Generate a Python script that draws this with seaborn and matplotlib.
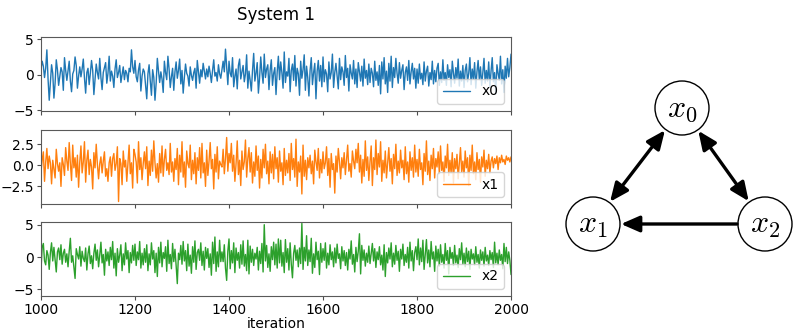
import numpy as np
import pandas as pd
import matplotlib.pyplot as plt
import seaborn as sns
from matplotlib.patches import Circle, FancyArrowPatch

# samples, roughly one every 2.5 iterations from 1000 to 2000
x0 = [0.8, 1.9, 1.2, -0.4, 0.9, 3.5, -0.6, -3.6, -1.0, 1.4, 0.2, -3.3, -1.2, 2.1, 0.7, -1.5, -0.3, 1.0, 0.4, -2.2,
      2.4, 0.6, -0.8, 0.5, 1.9, -0.9, -2.4, 0.1, 0.6, 2.5, 1.3, -1.9, -0.2, 1.1, -0.3, 0.8, 2.2, -0.5, -2.6, 0.3,
      0.9, -1.4, 0.2, 2.0, 0.6, -2.8, -0.7, 1.5, 0.3, -0.6, 2.3, -0.4, -2.1, 0.3, 1.0, 1.7, -1.2, 0.2, 2.6, -0.9,
      0.5, -0.2, -1.8, 0.8, 2.1, -0.4, 0.3, 1.3, -1.1, 0.0, 1.1, -0.7, 0.6, 0.2, -1.0, 0.9, 0.4, 3.5, 1.1, 0.2,
      2.0, -0.3, -1.0, 0.7, 1.6, -2.3, -0.2, 0.8, 0.4, -1.5, -3.4, 0.1, 1.4, -0.9, -2.9, 0.7, -0.4, -3.6, -1.2, 2.3,
      0.5, -1.1, 0.4, -0.6, -2.5, 1.9, 0.3, -0.7, 2.6, 0.8, -1.8, -0.3, 0.9, -2.2, 0.4, 1.8, -0.5, 0.6, 2.2, -1.3,
      0.6, -2.6, -0.4, 1.5, 0.2, -0.2, -1.6, 1.1, -0.1, -0.8, 0.3, 0.9, -1.9, 2.0, 0.4, -1.2, 0.7, -0.3, 1.6, 0.5,
      -0.6, 0.8, -0.3, 1.2, 0.2, -1.1, 0.6, 2.1, -0.2, 0.3, -0.9, 1.4, 0.1, -0.5, 0.7, 1.9, 0.4, 3.6, 1.0, -1.4,
      1.9, 0.2, -0.3, 2.4, -1.7, -0.2, 0.8, -2.0, 1.3, 2.2, -0.6, 0.4, 1.3, -1.0, 0.1, 2.8, -1.9, 0.5, -0.8, -2.3,
      0.6, 3.0, -0.9, 0.2, 1.7, -2.6, -0.5, 2.5, 0.3, -1.2, 2.9, -0.4, 0.8, 1.4, -2.1, 0.6, 2.1, -1.5, 0.2, 1.0,
      -2.8, 0.4, 2.6, -0.7, 1.8, 0.3, -1.9, 3.2, -1.1, 0.4, -0.2, 2.3, -2.4, 0.6, 1.5, -0.8, 2.7, -1.6, 0.9, 0.1,
      -2.9, 1.9, -0.5, 0.7, 2.8, -2.2, 1.2, -0.4, -3.0, 0.6, 2.4, -1.4, 0.3, 1.6, -3.4, 0.5, 2.0, -0.9, 1.3, -1.7,
      2.5, -1.0, 0.7, 0.1, -2.4, 1.8, -0.6, 0.3, 2.9, -1.8, 0.3, 1.6, -0.2, -2.0, 2.3, -0.7, 1.1, 0.4, -1.5, 2.7,
      -0.4, 0.9, -2.3, 1.4, 0.2, -0.6, 2.0, -1.3, 0.8, -1.8, 1.7, 0.4, -0.9, 1.2, -1.6, 2.2, -0.5, 0.6, -1.4, 1.5,
      -1.1, 0.9, 0.2, -1.7, 1.9, -0.8, 0.4, -1.5, 1.3, -2.7, 1.8, -0.6, 2.4, -1.3, 0.5, -2.5, 1.6, -0.9, 2.6, -1.8,
      1.0, -0.4, 2.3, 0.2, -1.2, 1.7, -0.5, 0.6, 1.4, -2.1, 0.3, 1.1, -0.8, 2.0, -1.3, 0.4, 1.6, -0.6, 0.9, -1.9,
      0.8, -1.2, 1.5, -0.6, 0.2, -1.4, 1.8, -0.9, 0.5, 1.2, -1.6, 0.3, -0.7, 1.9, -1.3, 0.6, -1.0, 0.9, 1.6, -1.5,
      0.4, -1.1, 2.1, -0.8, 0.3, -1.5, 1.4, -0.4, 0.7, -1.7, 1.9, 0.2, -1.2, 1.0, -0.5, 2.2, -1.6, 0.5, -0.9, 1.3,
      -1.8, 0.6, 1.5, -1.0, 0.2, 2.4, -1.4, 0.8, -0.6, 1.7, -1.9, 0.4, 2.0, -0.7, 1.1, -1.5, 0.3, 2.3, -1.2, 0.6,
      -0.9, 1.8, -1.7, 0.5, 2.4, -1.0, 0.3, -2.7, 1.4, 0.2, -0.8, 2.6, -1.3, 0.7, -2.5, 1.2, -0.5, 2.3, -0.3, 1.0,
      2.9]

x1 = [-0.8, 0.6, 1.6, -1.9, 0.4, 2.0, -0.4, 1.1, 0.3, -2.2, 0.6, -0.5, -1.5, 1.9, 0.2, -0.7, 0.3, -2.5, 0.9, 0.1,
      -1.2, 2.1, 0.5, -0.6, 2.7, 0.2, -1.8, 2.4, -0.3, 0.9, -1.4, 1.2, -2.6, 0.4, 2.3, -0.9, 0.4, 2.8, -2.0, 0.6,
      1.8, -1.1, 0.7, -0.2, -2.8, 1.5, -0.3, 2.5, 0.1, -1.6, 0.2, 1.0, -0.9, 0.5, 1.6, -1.3, -0.4, -1.9, 0.3, 1.0,
      -1.3, 0.8, 1.4, -0.6, 0.2, 2.2, -4.3, 0.8, 0.2, -2.3, 1.7, -0.2, 0.6, -1.9, 0.3, 2.4, -1.0, 0.3, -2.7, 1.9,
      1.3, 0.4, -2.1, 2.8, -0.5, 0.9, -1.7, 0.2, 1.6, -0.4, 2.2, -2.4, 0.5, -1.2, 1.8, -0.7, 2.9, 0.3, -1.5, 0.2,
      -2.0, 1.4, -0.9, 2.3, -1.3, 0.7, 1.9, -0.6, 0.3, -1.1, 2.6, -0.8, 0.4, -1.9, 0.8, -0.5, 2.0, -2.3, 1.2, -0.8,
      2.8, -1.4, 0.4, -2.6, 1.7, 0.2, -0.3, 2.4, -1.7, 0.6, -1.0, 1.5, -2.2, 0.9, -0.6, 2.1, -1.5, 2.6, -0.9, 0.3,
      -2.5, 1.8, -1.2, 0.5, 2.7, -0.4, 0.7, -2.8, 1.3, -0.8, 2.2, -1.6, 0.5, 0.1, -0.2, 1.9, -1.0, 0.8, 3.3, -0.7,
      1.4, 0.3, 2.6, -0.7, 1.2, -1.9, 0.2, 2.9, -1.1, 0.6, -2.4, 1.7, -0.5, 0.4, 3.0, -1.4, 0.8, 2.1, -0.8, 1.5,
      -2.1, 0.4, -1.3, 2.3, -0.6, 1.1, -2.7, 0.7, -1.5, 1.9, -0.3, 2.5, -1.0, 0.5, -2.2, 1.6, -0.9, 1.3, -1.6, 2.2,
      -0.4, 0.9, -2.0, 1.7, -0.7, 0.3, -2.3, 2.0, -1.2, 0.6, -0.9, 1.4, -1.8, 2.6, -0.5, 0.8, -1.4, 3.1, -2.5, 0.4,
      -0.8, 1.1, -3.4, 2.4, -1.3, 0.6, -1.7, 0.9, -0.3, 1.2, -1.0, 0.5, -2.2, 1.8, 0.4, -0.6, 2.0, -1.5, 0.7, -0.9,
      1.6, -0.4, 0.3, 2.2, -1.2, 0.8, -2.6, 1.4, -0.5, 0.2, -3.3, 1.1, -0.8, 2.0, 0.4, -1.6, 0.9, -0.3, 1.5, -1.1,
      0.6, 2.4, -0.7, 0.2, -1.4, 1.7, 0.5, -0.4, 1.9, 0.3, 2.6, -0.8, 1.2, -2.1, 0.7, -1.3, 2.9, -0.6, 1.0, -1.8,
      0.4, 2.3, -2.4, 0.9, -0.5, 3.0, -1.1, 1.4, -0.2, 2.8, -1.9, 0.6, -0.9, 1.7, -1.5, 0.3, 2.1, -0.7, 0.8, -2.2,
      1.3, -0.4, 2.5, -1.2, 0.5, -0.9, 1.8, -0.3, 0.6, -1.7, 2.2, -1.0, 0.4, -2.0, 1.6, -0.6, 0.9, -1.4, 2.4, -0.8,
      0.7, -1.3, 1.9, -0.5, 0.3, -2.3, 1.4, -0.7, 2.9, -1.1, 0.5, -1.8, 1.2, -0.4, 2.0, -1.5, 0.8, -0.2, 1.6, -1.0,
      2.3, -0.6, 0.4, -1.9, 1.1, -0.3, 2.5, -1.2, 0.6, -0.9, 1.5, -2.1, 0.8, -0.4, 1.3, -1.6, 0.2, 2.1, -0.8, 0.5,
      -1.4, 1.7, -0.3, 0.9, -2.4, 1.2, -0.6, 2.4, -1.0, 0.4, -1.7, 1.5, -0.5, 0.7, -2.0, 1.0, -0.2, 1.8, -1.3, 0.6,
      -0.4, 1.3, -0.9, 0.5, 1.0, -0.3, 0.8, 0.2, 1.1, -0.5, 0.9, 0.3, 1.2, 0.4, 0.7, 0.1, 1.1, 0.6, 0.9, 0.4,
      1.0]

x2 = [-2.0, 1.5, 2.1, -0.6, -1.2, 1.0, 0.3, -1.9, 0.7, 2.2, -0.6, 1.5, -0.4, -2.3, 0.8, 1.4, -0.4, 1.9, -1.1, 0.6,
      1.2, -0.8, 0.5, -1.5, 0.9, 2.9, -0.8, 0.2, -1.6, -3.3, 1.3, 0.4, -0.3, 1.6, -1.4, 0.9, -0.2, -0.7, 1.4, -2.0,
      0.5, 1.7, -1.0, 0.2, -1.8, 0.6, 2.0, -0.5, 1.1, -1.5, 0.3, 2.3, -0.9, 0.4, -2.8, 1.2, -0.6, 0.8, -1.3, 1.5,
      -0.4, 2.4, -1.7, 0.6, -2.9, 1.3, -0.8, 0.3, 1.9, -2.1, 0.5, -1.2, 2.2, -0.3, 1.0, -2.4, 0.7, -0.9, 1.8, -0.5,
      2.0, -1.3, 0.8, -0.4, 2.4, -1.7, 0.6, -1.2, 1.3, -0.8, 1.9, -2.1, 0.5, -1.2, 2.2, -0.3, 1.0, -2.4, 0.6, -3.0,
      1.5, -0.9, 2.3, -1.5, 0.7, -0.2, 1.6, -2.2, 2.6, -1.0, 0.4, -1.8, 2.1, -0.7, 1.2, -1.3, -4.1, 0.6, -0.4, 1.8,
      -1.1, 2.4, -0.6, 1.0, -2.1, 2.0, -1.4, 0.3, -2.5, 1.6, -0.8, 2.5, -1.9, 0.7, 1.2, -0.5, 2.2, -1.3, 0.9, -2.0,
      1.5, -0.2, 1.3, -1.6, 0.5, -2.8, 2.3, -1.0, 3.1, -2.2, 0.8, -1.5, 2.6, -0.7, 0.8, -0.7, 1.9, -1.7, -3.6, 0.9,
      2.8, -1.8, 1.0, -0.9, 2.2, -2.4, 1.4, -0.5, 0.7, -1.7, 1.9, -1.1, 2.5, -1.4, 0.4, -2.1, 2.6, -2.6, 1.7, -0.8,
      1.2, -1.3, 0.6, -0.3, 1.5, -2.0, 0.9, -1.0, 2.1, -2.3, 5.0, -0.6, 1.8, -1.6, 0.5, -2.2, 1.6, -0.4, 2.3, -1.2,
      2.0, -1.7, 2.8, -0.9, 2.6, -1.4, 0.7, -2.4, 2.7, -0.8, 1.3, -2.0, 2.2, -1.1, -3.2, 0.6, 1.8, -0.5, 1.1, -1.5,
      1.4, -1.0, 5.2, -1.9, 1.5, -0.6, 3.3, -1.3, 1.1, -0.7, 2.9, -2.5, 0.5, -1.6, 2.3, -0.4, 0.9, -2.7, 2.1, -0.8,
      1.3, -0.5, 2.2, -1.7, 0.6, -1.2, 1.9, -0.4, 0.8, -1.5, 1.4, -0.9, 2.0, -0.2, 0.5, -1.8, 1.6, -0.6, 1.0, -1.3,
      0.7, -2.0, 1.2, -0.3, 2.5, -1.1, 0.4, -2.3, 1.5, -0.7, 0.9, 3.6, -2.6, 1.8, -0.5, 1.1, -1.4, 0.6, -0.8, 1.7,
      -1.0, 0.5, 2.1, -0.6, 1.3, -1.6, 0.8, -0.4, 1.6, -1.2, 0.3, -2.0, 1.9, -3.0, 0.7, -0.9, 1.4, -0.3, 2.2, -1.5,
      0.6, -1.1, 1.8, -0.5, 0.9, -2.2, 1.2, -0.3, 2.0, -1.3, 0.4, -0.8, 1.5, -1.7, 2.3, -0.6, 1.0, -2.1, 0.7, 1.6,
      -0.4, 2.8, -1.2, 1.4, -0.7, 2.6, -1.9, 0.5, 2.7, -0.9, 1.1, -1.5, 2.4, -0.3, 0.8, -2.2, 1.7, -0.6, 1.2, -1.4,
      1.9, -0.8, 0.4, -1.7, 2.1, -0.5, 1.0, -2.6, 1.5, -0.2, 0.7, -1.3, 1.8, -0.9, 0.3, -1.6, 1.3, -0.4, 2.2, -1.1,
      0.6, -1.5, 1.4, -0.7, 0.9, -1.9, 1.2, -0.3, 0.5, -1.2, 1.6, -0.8, 0.4, -1.7, 1.1, -0.5, 0.8, -1.4, 1.5, -0.6,
      0.3, -1.3, 1.0, -0.4, 0.7, -1.6, 2.3, -0.9, 0.6, -1.2, 1.1, -0.5, 0.4, -1.8, 2.1, -0.7, 1.5, -1.0, 0.8, -0.5,
      -2.7]

series = {'x0': x0, 'x1': x1, 'x2': x2}
series_colors = ['#1f77b4', '#ff7f0e', '#2ca02c']
y_limits = [(-5.1, 5.3), (-4.6, 4.2), (-6.0, 5.4)]
y_ticks = [[-5, 0, 5], [-2.5, 0.0, 2.5], [-5, 0, 5]]
x_ticks = [1000, 1200, 1400, 1600, 1800, 2000]

# causal graph
nodes = ['x0', 'x1', 'x2']
edges = [('x0', 'x1', 'both'), ('x0', 'x2', 'both'), ('x2', 'x1', 'one')]

sns.set_style('ticks')
plt.rcParams['font.family'] = ['DejaVu Sans']
plt.rcParams['mathtext.fontset'] = 'cm'
plt.rcParams['text.color'] = 'black'
plt.rcParams['xtick.color'] = 'black'
plt.rcParams['ytick.color'] = 'black'
plt.rcParams['axes.labelcolor'] = 'black'

fig = plt.figure(figsize=(7.96, 3.34), dpi=100)

axes_boxes = [[0.0515, 0.668, 0.5905, 0.221],
              [0.0515, 0.389, 0.5905, 0.222],
              [0.0515, 0.114, 0.5905, 0.221]]

for i, (name, vals) in enumerate(series.items()):
    ax = fig.add_axes(axes_boxes[i])
    d = pd.DataFrame({'iteration': np.linspace(1000, 2000, len(vals)), name: vals})
    sns.lineplot(data=d, x='iteration', y=name, ax=ax, color=series_colors[i],
                 linewidth=1.0, label=name)
    ax.set_xlim(1000, 2000)
    ax.set_ylim(*y_limits[i])
    ax.set_yticks(y_ticks[i])
    ax.set_xticks(x_ticks)
    ax.set_ylabel('')
    ax.tick_params(labelsize=10, length=3, color='0.3', pad=2)
    for sp in ax.spines.values():
        sp.set_color('0.35')
        sp.set_linewidth(0.8)
    ax.legend(loc='lower right', fontsize=10, handlelength=2.0, framealpha=0.8)
    if i < 2:
        ax.set_xticklabels([])
        ax.set_xlabel('')
    else:
        ax.set_xlabel('iteration', fontsize=10, labelpad=0)
    if i == 0:
        ax.set_title('System 1', fontsize=12, pad=12)

# graph panel in pixel-like units
gax = fig.add_axes([545 / 796, 0, 251 / 796, 1])
gax.set_xlim(545, 796)
gax.set_ylim(334, 0)
gax.axis('off')

pos = {'x0': (682, 108), 'x1': (593, 224), 'x2': (765, 224)}
r = 27

for n in nodes:
    cx, cy = pos[n]
    gax.add_patch(Circle((cx, cy), r, facecolor='white', edgecolor='black', linewidth=1.0))
    gax.text(cx, cy + 1, '$' + n[0] + '_' + n[1] + '$', fontsize=23, ha='center', va='center')

for a, b, kind in edges:
    (ax_, ay_), (bx_, by_) = pos[a], pos[b]
    d = np.hypot(bx_ - ax_, by_ - ay_)
    ux, uy = (bx_ - ax_) / d, (by_ - ay_) / d
    p1 = (ax_ + ux * (r + 1), ay_ + uy * (r + 1))
    p2 = (bx_ - ux * (r + 1), by_ - uy * (r + 1))
    style = '<|-|>,head_length=0.8,head_width=0.35' if kind == 'both' else '-|>,head_length=0.8,head_width=0.35'
    gax.add_patch(FancyArrowPatch(p1, p2, arrowstyle=style, mutation_scale=14,
                                  linewidth=2.4, color='black', shrinkA=0, shrinkB=0))

fig.savefig('out.png', dpi=100)
